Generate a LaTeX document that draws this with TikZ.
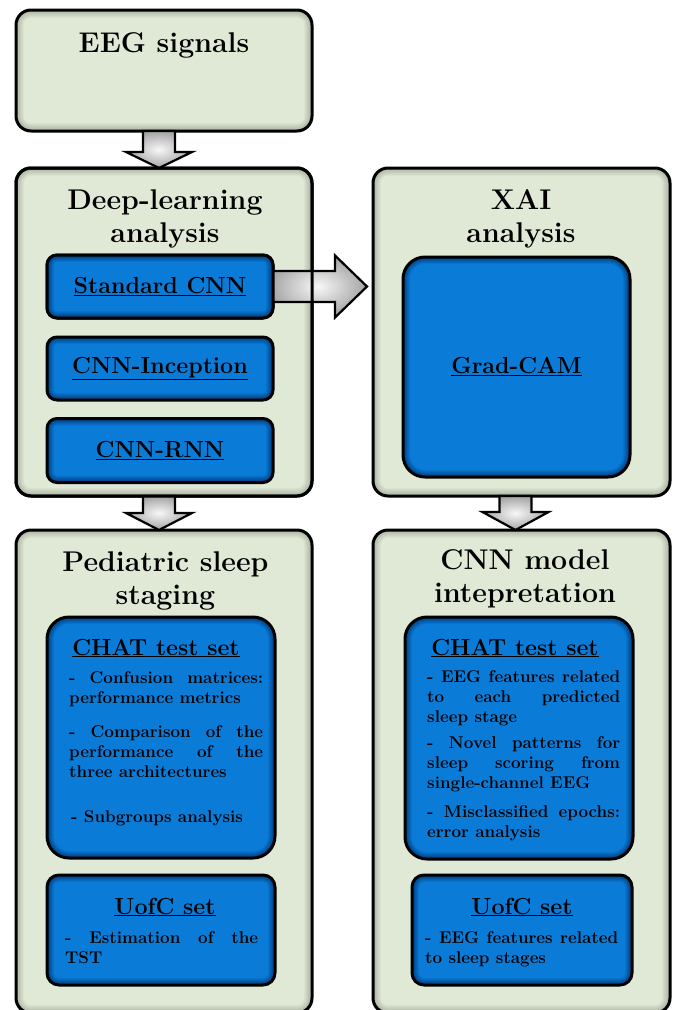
\documentclass[tikz,border=0pt]{standalone}
\usepackage{fontspec}
\usetikzlibrary{calc}
\definecolor{sagec}{RGB}{224,232,214}
\definecolor{sagee}{RGB}{170,180,158}
\definecolor{bluec}{RGB}{10,124,216}
\definecolor{bluee}{RGB}{0,60,125}
\tikzset{
  glow/.style n args={4}{rectangle, rounded corners=#1pt, draw=black, line width=3pt,
    outer sep=0pt, inner sep=0pt, fill=#2,
    path picture={
      \foreach \d in {1,...,#4}{%
        \pgfmathtruncatemacro\pp{100*\d/#4}%
        \pgfmathsetmacro\rr{max(#1-\d,0.5)}%
        \fill[#3!\pp!#2, rounded corners=\rr pt]
          ([xshift=\d pt,yshift=-\d pt]path picture bounding box.north west) rectangle
          ([xshift=-\d pt,yshift=\d pt]path picture bounding box.south east);
      }
    }},
  outerbox/.style={glow={15}{sagee}{sagec}{8}},
  bluebox/.style={glow={#1}{bluee}{bluec}{7}},
  ttl/.style={font=\fontsize{28.5}{33}\selectfont\bfseries, align=center, inner sep=0pt},
  subttl/.style={font=\fontsize{23.2}{27}\selectfont\bfseries, inner sep=0pt},
  body/.style={font=\fontsize{17}{20}\selectfont\bfseries, align=justify, inner sep=0pt, anchor=base west},
  blockarrow/.style={draw=black, line width=2.2pt, line join=miter, inner color=gray!6, outer color=gray!72}
}
\begin{document}
\begin{tikzpicture}[x=1pt, y=-1pt]
\useasboundingbox (0,0) rectangle (678,1010);
% outer boxes
\node[outerbox, minimum width=296pt, minimum height=121pt] (eeg) at (164,70.5) {};
\node[outerbox, minimum width=296pt, minimum height=328pt] (dl) at (164,332) {};
\node[outerbox, minimum width=297pt, minimum height=328pt] (xai) at (521.5,332) {};
\node[outerbox, minimum width=296pt, minimum height=483pt] (ped) at (164,771.5) {};
\node[outerbox, minimum width=297pt, minimum height=483pt] (cnn) at (521.5,771.5) {};
% titles (base = last line)
\node[ttl, anchor=base] (eegt) at (164,52) {EEG signals};
\node[ttl, anchor=base] (dlt) at (165,242) {Deep-learning\\analysis};
\node[ttl, anchor=base] (xait) at (521,242) {XAI\\analysis};
\node[ttl, anchor=base] (pedt) at (165.5,604) {Pediatric sleep\\staging};
\node[ttl, anchor=base] (cnnt) at (525,602) {CNN model\\intepretation};
% arrows
\path[blockarrow] ($(eeg.south)+(-21pt,0)$) -- ($(dl.north)+(-21pt,16pt)$) -- ($(dl.north)+(-38pt,16pt)$)
  -- ($(dl.north)+(-5pt,0)$) -- ($(dl.north)+(28pt,16pt)$) -- ($(dl.north)+(11pt,16pt)$)
  -- ($(eeg.south)+(11pt,0)$) -- cycle;
\path[blockarrow] ($(dl.south)+(-21pt,0)$) -- ($(ped.north)+(-21pt,17pt)$) -- ($(ped.north)+(-38pt,17pt)$)
  -- ($(ped.north)+(-5pt,0)$) -- ($(ped.north)+(28pt,17pt)$) -- ($(ped.north)+(11pt,17pt)$)
  -- ($(dl.south)+(11pt,0)$) -- cycle;
\path[blockarrow] ($(xai.south)+(-22pt,0)$) -- ($(cnn.north)+(-22pt,18pt)$) -- ($(cnn.north)+(-39pt,18pt)$)
  -- ($(cnn.north)+(-6pt,0)$) -- ($(cnn.north)+(27pt,18pt)$) -- ($(cnn.north)+(10pt,18pt)$)
  -- ($(xai.south)+(10pt,0)$) -- cycle;
% inner boxes of deep learning
\node[bluebox=10, minimum width=226pt, minimum height=63pt, subttl] (sc) at (160,286.5) {\underline{Standard CNN}};
\path[blockarrow] ($(sc.east)+(-4pt,15.5pt)$) -- ($(xai.west |- sc.east)+(-38pt,15.5pt)$)
  -- ($(xai.west |- sc.east)+(-38pt,31pt)$) -- ($(xai.west |- sc.east)+(-6pt,0)$)
  -- ($(xai.west |- sc.east)+(-38pt,-31pt)$) -- ($(xai.west |- sc.east)+(-38pt,-15.5pt)$)
  -- ($(sc.east)+(-4pt,-15.5pt)$) -- cycle;
\node[bluebox=10, minimum width=226pt, minimum height=63pt, subttl] (sc) at (160,286.5) {\underline{Standard CNN}};
\node[bluebox=10, minimum width=226pt, minimum height=63pt, subttl] (inc) at (160,368.5) {\underline{CNN-Inception}};
\node[bluebox=10, minimum width=226pt, minimum height=64pt, subttl] (rnn) at (160,450.5) {\underline{CNN-RNN}};
\draw[line width=3pt, rounded corners=15pt] (dl.north west) rectangle (dl.south east);
% XAI inner
\node[bluebox=22, minimum width=227pt, minimum height=220pt, subttl] (gc) at (516.5,367) {\underline{Grad-CAM}};
% pediatric inner
\node[bluebox=22, minimum width=228pt, minimum height=241pt] (chatl) at (161,737.5) {};
\node[subttl, anchor=base] (chatlt) at (156,655) {\underline{CHAT test set}};
\node[body, text width=194pt] (cl1) at (69,683) {- Confusion matrices:\linebreak performance metrics};
\node[body, text width=194pt] (cl2) at (69,737) {- Comparison of the\linebreak performance of the\linebreak three architectures};
\node[body, text width=194pt] (cl3) at (71,822) {- Subgroups analysis};
\node[bluebox=12, minimum width=228pt, minimum height=110pt] (uofl) at (161,930) {};
\node[subttl, anchor=base] (uoflt) at (165,914) {\underline{UofC set}};
\node[body, text width=193pt] (ul1) at (65,943) {- Estimation of the\linebreak TST};
% CNN model inner
\node[bluebox=22, minimum width=228pt, minimum height=242pt] (chatr) at (519,738) {};
\node[subttl, anchor=base] (chatrt) at (515,655) {\underline{CHAT test set}};
\node[body, text width=193pt] (cr1) at (427,682) {- EEG features related\linebreak to each predicted\linebreak sleep stage};
\node[body, text width=193pt] (cr2) at (427,748) {- Novel patterns for\linebreak sleep scoring from\linebreak single-channel EEG};
\node[body, text width=193pt] (cr3) at (427,817) {- Misclassified epochs:\linebreak error analysis};
\node[bluebox=12, minimum width=220pt, minimum height=110pt] (uofr) at (522,930) {};
\node[subttl, anchor=base] (uofrt) at (522,914) {\underline{UofC set}};
\node[body, text width=193pt] (ur1) at (425,943) {- EEG features related\linebreak to sleep stages};
\end{tikzpicture}
\end{document}
